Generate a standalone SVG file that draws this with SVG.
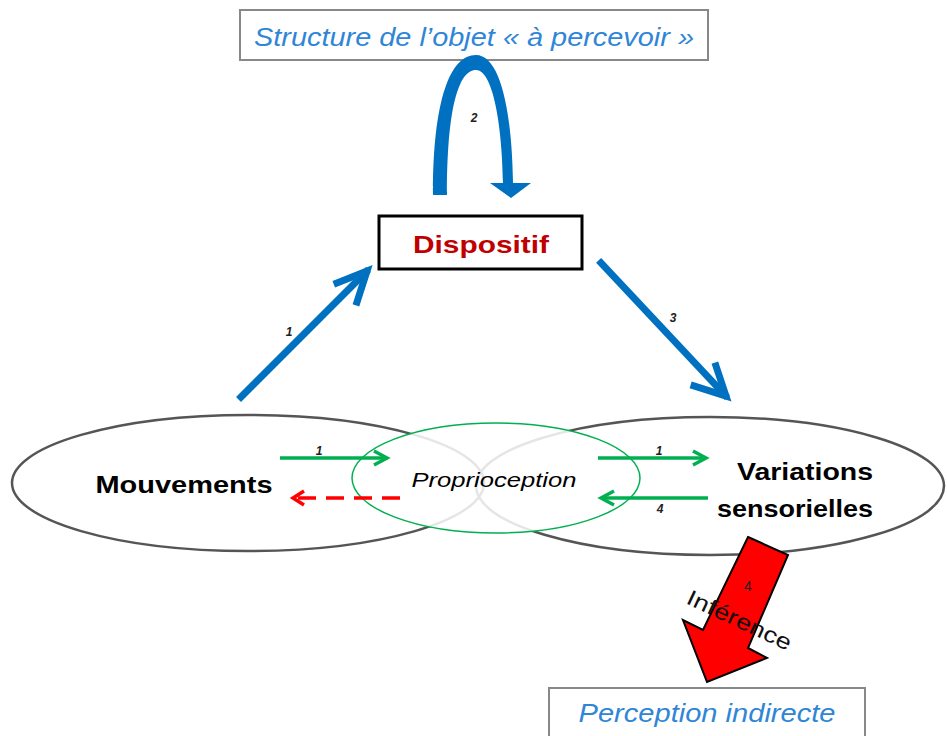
<svg xmlns="http://www.w3.org/2000/svg" width="947" height="736" viewBox="0 0 947 736">
<style>
.lbl{font-family:"Liberation Sans",Arial,sans-serif;font-style:italic;font-weight:bold;font-size:12px;fill:#222;text-anchor:middle}
.big{font-family:"Liberation Sans",Arial,sans-serif;font-weight:bold;font-size:23px;fill:#000;text-anchor:middle}
.blue{font-family:"Liberation Sans",Arial,sans-serif;font-style:italic;font-size:25px;fill:#2f86d6;text-anchor:middle}
.barrow{stroke:#0070c0;stroke-width:7;fill:none;stroke-linecap:square}
.garrow{stroke:#00b050;stroke-width:3.5;fill:none}
</style>
<rect width="947" height="736" fill="#fff"/>
<g id="ellipses">
<ellipse cx="248" cy="483" rx="236" ry="68" fill="none" stroke="#555" stroke-width="2.5"/>
<ellipse cx="710" cy="486" rx="234" ry="69" fill="none" stroke="#555" stroke-width="2.5"/>
</g>
<g id="proprioception">
<ellipse cx="496" cy="478" rx="144" ry="55" fill="#fff" fill-opacity="0.85" stroke="#00b050" stroke-width="1.5"/>
<text x="494" y="487" font-family="Liberation Sans, Arial, sans-serif" font-style="italic" font-size="21" text-anchor="middle" textLength="165" lengthAdjust="spacingAndGlyphs">Proprioception</text>
</g>
<g id="structure">
<rect x="240" y="10" width="468" height="50" fill="#fff" stroke="#888" stroke-width="2"/>
<text class="blue" x="474" y="46" textLength="440" lengthAdjust="spacingAndGlyphs">Structure de l’objet « à percevoir »</text>
</g>
<g id="dispositif">
<rect x="379" y="216" width="203" height="53" fill="#fff" stroke="#000" stroke-width="3"/>
<text x="481" y="253" font-family="Liberation Sans, Arial, sans-serif" font-weight="bold" font-size="24" fill="#c00000" text-anchor="middle" textLength="136" lengthAdjust="spacingAndGlyphs">Dispositif</text>
</g>
<g id="mouvements">
<text class="big" x="184" y="493" textLength="177" lengthAdjust="spacingAndGlyphs">Mouvements</text>
</g>
<g id="variations">
<text class="big" x="805" y="480" textLength="136" lengthAdjust="spacingAndGlyphs">Variations</text>
<text class="big" x="795" y="517" textLength="156" lengthAdjust="spacingAndGlyphs">sensorielles</text>
</g>
<g id="perception">
<rect x="549" y="688" width="316" height="60" fill="#fff" stroke="#888" stroke-width="2"/>
<text class="blue" x="707" y="722" textLength="257" lengthAdjust="spacingAndGlyphs">Perception indirecte</text>
</g>
<g id="connectors">
<path d="M433,195 C433,100 450,55 476,55 C500,55 512,110 513,183 L531,183 L511,198 L490,183 L503,183 C502,120 492,70 476,70 C458,70 447,110 447,195 Z" fill="#0070c0"/>
<text class="lbl" x="474" y="122">2</text>
<line class="barrow" x1="241" y1="397" x2="366" y2="272"/>
<polyline class="barrow" points="337,283 367,271 357,302" stroke-linejoin="miter"/>
<text class="lbl" x="289" y="336">1</text>
<line class="barrow" x1="601" y1="263" x2="725" y2="395"/>
<polyline class="barrow" points="716,366 726,396 694,386" stroke-linejoin="miter"/>
<text class="lbl" x="673" y="322">3</text>
<line class="garrow" x1="280" y1="458" x2="386" y2="458"/>
<polyline class="garrow" points="374,451 387,458 374,465"/>
<text class="lbl" x="319" y="455">1</text>
<line x1="400" y1="498" x2="296" y2="498" stroke="#ff0000" stroke-width="3.5" stroke-dasharray="18,10"/>
<polyline points="304,491 293,498 304,505" fill="none" stroke="#ff0000" stroke-width="3.5"/>
<line class="garrow" x1="598" y1="458" x2="705" y2="458"/>
<polyline class="garrow" points="693,451 706,458 693,465"/>
<text class="lbl" x="659" y="455">1</text>
<line class="garrow" x1="708" y1="498" x2="602" y2="498"/>
<polyline class="garrow" points="614,491 601,498 614,505"/>
<text class="lbl" x="660" y="513">4</text>
<polygon points="748,537 788,555 748,648 767,658 707,682 683,620 703,630" fill="#ff0000" stroke="#000" stroke-width="2" stroke-linejoin="miter"/>
<text x="748" y="591" font-family="Liberation Sans, Arial, sans-serif" font-size="14" fill="#222" text-anchor="middle">4</text>
<text x="685" y="603" font-family="Liberation Sans, Arial, sans-serif" font-size="22" fill="#111" textLength="113" lengthAdjust="spacingAndGlyphs" transform="rotate(25 685 603)">Inférence</text>
</g>
</svg>
